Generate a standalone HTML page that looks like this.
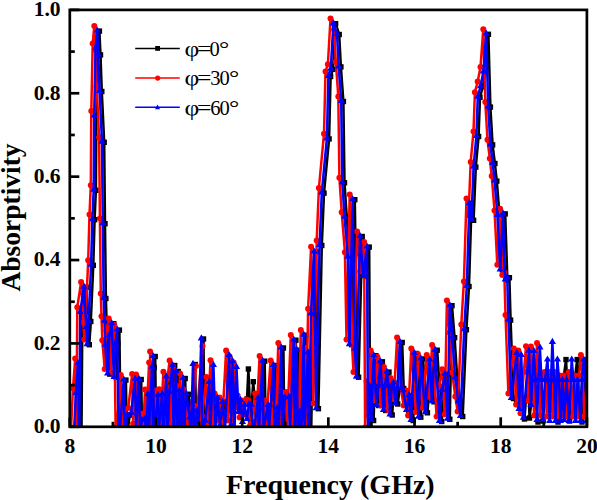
<!DOCTYPE html>
<html><head><meta charset="utf-8"><style>
html,body{margin:0;padding:0;background:#fff;}
svg{display:block;}
text{font-family:"Liberation Serif",serif;}
</style></head><body>
<svg width="597" height="500" viewBox="0 0 597 500">
<rect width="597" height="500" fill="#fff"/>
<g id="curves"><clipPath id="cp"><rect x="69.8" y="9.9" width="517.1" height="416.9"/></clipPath><g clip-path="url(#cp)"><polyline points="76.2,432.5 78.1,393.4 80.3,363.6 81.5,432.5 82.4,312.4 86.2,287.2 88.5,327.5 89.3,344.7 90.8,321.5 93.3,265.3 94.6,219.7 95.9,190.3 96.4,116.1 97.8,48.5 99.4,31.1 100.5,54.9 101.8,91.5 104.2,142.3 105.0,223.7 105.9,298.5 106.6,321.3 107.4,345.3 109.8,374.1 111.7,335.5 113.8,323.7 116.2,377.5 117.8,343.5 119.4,330.1 120.7,432.5 121.7,436.0 125.9,380.1 126.9,437.4 129.7,415.1 133.4,413.1 137.2,379.2 138.2,428.8 141.2,379.5 142.2,434.1 144.2,420.5 147.2,418.9 148.2,433.1 150.2,394.5 151.2,431.5 154.2,367.5 155.2,435.0 155.2,356.5 156.2,435.4 160.2,395.5 161.2,428.7 164.3,394.3 165.3,439.3 168.5,376.9 169.5,437.7 171.6,392.2 174.7,365.5 175.7,430.2 178.2,371.5 179.2,435.9 181.7,391.1 182.7,438.7 185.2,378.5 186.2,431.0 188.5,394.3 191.9,417.9 192.9,440.0 195.2,364.5 196.2,435.0 199.3,410.9 200.3,439.7 203.5,339.0 204.5,436.8 207.4,421.3 211.4,382.2 212.4,432.1 215.5,430.0 218.0,398.0 221.8,420.2 225.0,402.0 228.0,404.0 231.0,410.0 234.0,398.0 236.5,406.0 238.6,402.0 243.0,404.0 247.0,399.0 248.4,369.0 250.5,420.0 253.3,381.7 256.0,422.0 259.0,400.0 262.0,420.0 264.7,361.2 265.7,430.2 270.2,405.5 271.2,429.3 275.7,365.5 276.7,432.1 279.6,408.2 280.6,436.0 283.4,348.0 284.4,432.6 287.2,397.7 291.1,397.0 292.1,434.3 295.9,340.2 296.9,432.3 298.9,350.2 299.9,434.3 302.4,411.9 303.4,440.2 305.9,335.2 306.9,428.8 310.1,352.8 311.1,437.5 313.2,313.9 316.2,251.9 318.4,408.7 321.8,245.5 324.0,193.1 329.1,138.9 330.6,76.5 333.0,69.3 335.6,23.7 339.2,34.5 340.9,66.9 343.4,101.5 344.5,182.8 346.8,217.3 350.0,257.3 351.6,344.7 354.8,199.7 357.1,349.1 358.6,377.2 362.2,236.5 365.4,276.5 369.2,247.1 370.2,432.5 371.7,386.5 373.6,420.5 374.7,386.5 375.8,355.7 377.2,386.5 378.7,405.5 380.7,386.5 382.4,361.8 384.2,386.5 385.7,410.5 387.2,386.5 389.0,372.1 390.7,386.5 392.2,415.0 394.0,386.5 395.6,383.1 397.7,404.0 399.7,388.5 402.2,342.5 403.7,388.5 405.4,390.8 408.7,410.5 411.2,395.5 413.2,420.5 416.4,353.5 420.8,417.2 423.0,359.0 427.4,412.8 431.8,360.1 434.0,401.8 437.2,350.2 441.7,421.5 444.2,390.5 447.2,374.3 449.8,419.3 452.0,305.7 454.6,337.7 457.2,377.7 460.4,401.7 462.7,416.5 466.4,329.7 469.0,286.5 471.6,203.5 473.6,220.3 475.8,167.1 478.6,136.5 480.0,97.3 482.8,86.7 485.6,72.1 488.4,34.3 490.4,107.1 492.6,144.9 494.9,163.5 496.8,181.1 499.6,215.5 502.4,269.9 505.2,213.9 507.4,280.1 509.4,277.7 510.6,320.1 513.5,398.5 524.5,419.0 528.0,372.0 529.5,418.0 534.0,380.0 538.0,422.0 543.0,421.0 546.0,378.0 550.0,410.0 553.0,380.0 558.0,422.0 566.0,359.6 569.5,421.0 577.2,359.6 582.0,422.0 586.0,360.0 590.0,400.0" fill="none" stroke="#000" stroke-width="2.5" stroke-linejoin="round"/><g fill="#000"><rect x="73.5" y="429.8" width="5.4" height="5.4"/><rect x="75.4" y="390.7" width="5.4" height="5.4"/><rect x="77.6" y="360.9" width="5.4" height="5.4"/><rect x="78.8" y="429.8" width="5.4" height="5.4"/><rect x="79.7" y="309.7" width="5.4" height="5.4"/><rect x="83.5" y="284.5" width="5.4" height="5.4"/><rect x="85.8" y="324.8" width="5.4" height="5.4"/><rect x="86.6" y="342.0" width="5.4" height="5.4"/><rect x="88.1" y="318.8" width="5.4" height="5.4"/><rect x="90.6" y="262.6" width="5.4" height="5.4"/><rect x="91.9" y="217.0" width="5.4" height="5.4"/><rect x="93.2" y="187.6" width="5.4" height="5.4"/><rect x="93.7" y="113.4" width="5.4" height="5.4"/><rect x="95.1" y="45.8" width="5.4" height="5.4"/><rect x="96.7" y="28.4" width="5.4" height="5.4"/><rect x="97.8" y="52.2" width="5.4" height="5.4"/><rect x="99.1" y="88.8" width="5.4" height="5.4"/><rect x="101.5" y="139.6" width="5.4" height="5.4"/><rect x="102.3" y="221.0" width="5.4" height="5.4"/><rect x="103.2" y="295.8" width="5.4" height="5.4"/><rect x="103.9" y="318.6" width="5.4" height="5.4"/><rect x="104.7" y="342.6" width="5.4" height="5.4"/><rect x="107.1" y="371.4" width="5.4" height="5.4"/><rect x="109.0" y="332.8" width="5.4" height="5.4"/><rect x="111.1" y="321.0" width="5.4" height="5.4"/><rect x="113.5" y="374.8" width="5.4" height="5.4"/><rect x="115.1" y="340.8" width="5.4" height="5.4"/><rect x="116.7" y="327.4" width="5.4" height="5.4"/><rect x="118.0" y="429.8" width="5.4" height="5.4"/><rect x="119.0" y="433.3" width="5.4" height="5.4"/><rect x="123.2" y="377.4" width="5.4" height="5.4"/><rect x="124.2" y="434.7" width="5.4" height="5.4"/><rect x="127.0" y="412.4" width="5.4" height="5.4"/><rect x="130.7" y="410.4" width="5.4" height="5.4"/><rect x="134.5" y="376.5" width="5.4" height="5.4"/><rect x="135.5" y="426.1" width="5.4" height="5.4"/><rect x="138.5" y="376.8" width="5.4" height="5.4"/><rect x="139.5" y="431.4" width="5.4" height="5.4"/><rect x="141.5" y="417.8" width="5.4" height="5.4"/><rect x="144.5" y="416.2" width="5.4" height="5.4"/><rect x="145.5" y="430.4" width="5.4" height="5.4"/><rect x="147.5" y="391.8" width="5.4" height="5.4"/><rect x="148.5" y="428.8" width="5.4" height="5.4"/><rect x="151.5" y="364.8" width="5.4" height="5.4"/><rect x="152.5" y="432.3" width="5.4" height="5.4"/><rect x="152.5" y="353.8" width="5.4" height="5.4"/><rect x="153.5" y="432.7" width="5.4" height="5.4"/><rect x="157.5" y="392.8" width="5.4" height="5.4"/><rect x="158.5" y="426.0" width="5.4" height="5.4"/><rect x="161.7" y="391.6" width="5.4" height="5.4"/><rect x="162.7" y="436.6" width="5.4" height="5.4"/><rect x="165.8" y="374.2" width="5.4" height="5.4"/><rect x="166.8" y="435.0" width="5.4" height="5.4"/><rect x="168.9" y="389.5" width="5.4" height="5.4"/><rect x="172.0" y="362.8" width="5.4" height="5.4"/><rect x="173.0" y="427.5" width="5.4" height="5.4"/><rect x="175.5" y="368.8" width="5.4" height="5.4"/><rect x="176.5" y="433.2" width="5.4" height="5.4"/><rect x="179.0" y="388.4" width="5.4" height="5.4"/><rect x="180.0" y="436.0" width="5.4" height="5.4"/><rect x="182.5" y="375.8" width="5.4" height="5.4"/><rect x="183.5" y="428.3" width="5.4" height="5.4"/><rect x="185.8" y="391.6" width="5.4" height="5.4"/><rect x="189.2" y="415.2" width="5.4" height="5.4"/><rect x="190.2" y="437.3" width="5.4" height="5.4"/><rect x="192.5" y="361.8" width="5.4" height="5.4"/><rect x="193.5" y="432.3" width="5.4" height="5.4"/><rect x="196.7" y="408.2" width="5.4" height="5.4"/><rect x="197.7" y="437.0" width="5.4" height="5.4"/><rect x="200.8" y="336.3" width="5.4" height="5.4"/><rect x="201.8" y="434.1" width="5.4" height="5.4"/><rect x="204.8" y="418.6" width="5.4" height="5.4"/><rect x="208.7" y="379.5" width="5.4" height="5.4"/><rect x="209.7" y="429.4" width="5.4" height="5.4"/><rect x="212.8" y="427.3" width="5.4" height="5.4"/><rect x="215.3" y="395.3" width="5.4" height="5.4"/><rect x="219.1" y="417.5" width="5.4" height="5.4"/><rect x="222.3" y="399.3" width="5.4" height="5.4"/><rect x="225.3" y="401.3" width="5.4" height="5.4"/><rect x="228.3" y="407.3" width="5.4" height="5.4"/><rect x="231.3" y="395.3" width="5.4" height="5.4"/><rect x="233.8" y="403.3" width="5.4" height="5.4"/><rect x="235.9" y="399.3" width="5.4" height="5.4"/><rect x="240.3" y="401.3" width="5.4" height="5.4"/><rect x="244.3" y="396.3" width="5.4" height="5.4"/><rect x="245.7" y="366.3" width="5.4" height="5.4"/><rect x="247.8" y="417.3" width="5.4" height="5.4"/><rect x="250.6" y="379.0" width="5.4" height="5.4"/><rect x="253.3" y="419.3" width="5.4" height="5.4"/><rect x="256.3" y="397.3" width="5.4" height="5.4"/><rect x="259.3" y="417.3" width="5.4" height="5.4"/><rect x="262.0" y="358.5" width="5.4" height="5.4"/><rect x="263.0" y="427.5" width="5.4" height="5.4"/><rect x="267.5" y="402.8" width="5.4" height="5.4"/><rect x="268.5" y="426.6" width="5.4" height="5.4"/><rect x="273.0" y="362.8" width="5.4" height="5.4"/><rect x="274.0" y="429.4" width="5.4" height="5.4"/><rect x="276.9" y="405.5" width="5.4" height="5.4"/><rect x="277.9" y="433.3" width="5.4" height="5.4"/><rect x="280.7" y="345.3" width="5.4" height="5.4"/><rect x="281.7" y="429.9" width="5.4" height="5.4"/><rect x="284.5" y="395.0" width="5.4" height="5.4"/><rect x="288.4" y="394.3" width="5.4" height="5.4"/><rect x="289.4" y="431.6" width="5.4" height="5.4"/><rect x="293.2" y="337.5" width="5.4" height="5.4"/><rect x="294.2" y="429.6" width="5.4" height="5.4"/><rect x="296.2" y="347.5" width="5.4" height="5.4"/><rect x="297.2" y="431.6" width="5.4" height="5.4"/><rect x="299.7" y="409.2" width="5.4" height="5.4"/><rect x="300.7" y="437.5" width="5.4" height="5.4"/><rect x="303.2" y="332.5" width="5.4" height="5.4"/><rect x="304.2" y="426.1" width="5.4" height="5.4"/><rect x="307.4" y="350.1" width="5.4" height="5.4"/><rect x="308.4" y="434.8" width="5.4" height="5.4"/><rect x="310.5" y="311.2" width="5.4" height="5.4"/><rect x="313.5" y="249.2" width="5.4" height="5.4"/><rect x="315.7" y="406.0" width="5.4" height="5.4"/><rect x="319.1" y="242.8" width="5.4" height="5.4"/><rect x="321.3" y="190.4" width="5.4" height="5.4"/><rect x="326.4" y="136.2" width="5.4" height="5.4"/><rect x="327.9" y="73.8" width="5.4" height="5.4"/><rect x="330.3" y="66.6" width="5.4" height="5.4"/><rect x="332.9" y="21.0" width="5.4" height="5.4"/><rect x="336.5" y="31.8" width="5.4" height="5.4"/><rect x="338.2" y="64.2" width="5.4" height="5.4"/><rect x="340.7" y="98.8" width="5.4" height="5.4"/><rect x="341.8" y="180.1" width="5.4" height="5.4"/><rect x="344.1" y="214.6" width="5.4" height="5.4"/><rect x="347.3" y="254.6" width="5.4" height="5.4"/><rect x="348.9" y="342.0" width="5.4" height="5.4"/><rect x="352.1" y="197.0" width="5.4" height="5.4"/><rect x="354.4" y="346.4" width="5.4" height="5.4"/><rect x="355.9" y="374.5" width="5.4" height="5.4"/><rect x="359.5" y="233.8" width="5.4" height="5.4"/><rect x="362.7" y="273.8" width="5.4" height="5.4"/><rect x="366.5" y="244.4" width="5.4" height="5.4"/><rect x="367.5" y="429.8" width="5.4" height="5.4"/><rect x="369.0" y="383.8" width="5.4" height="5.4"/><rect x="370.9" y="417.8" width="5.4" height="5.4"/><rect x="372.0" y="383.8" width="5.4" height="5.4"/><rect x="373.1" y="353.0" width="5.4" height="5.4"/><rect x="374.5" y="383.8" width="5.4" height="5.4"/><rect x="376.0" y="402.8" width="5.4" height="5.4"/><rect x="378.0" y="383.8" width="5.4" height="5.4"/><rect x="379.7" y="359.1" width="5.4" height="5.4"/><rect x="381.5" y="383.8" width="5.4" height="5.4"/><rect x="383.0" y="407.8" width="5.4" height="5.4"/><rect x="384.5" y="383.8" width="5.4" height="5.4"/><rect x="386.3" y="369.4" width="5.4" height="5.4"/><rect x="388.0" y="383.8" width="5.4" height="5.4"/><rect x="389.5" y="412.3" width="5.4" height="5.4"/><rect x="391.3" y="383.8" width="5.4" height="5.4"/><rect x="392.9" y="380.4" width="5.4" height="5.4"/><rect x="395.0" y="401.3" width="5.4" height="5.4"/><rect x="397.0" y="385.8" width="5.4" height="5.4"/><rect x="399.5" y="339.8" width="5.4" height="5.4"/><rect x="401.0" y="385.8" width="5.4" height="5.4"/><rect x="402.7" y="388.1" width="5.4" height="5.4"/><rect x="406.0" y="407.8" width="5.4" height="5.4"/><rect x="408.5" y="392.8" width="5.4" height="5.4"/><rect x="410.5" y="417.8" width="5.4" height="5.4"/><rect x="413.7" y="350.8" width="5.4" height="5.4"/><rect x="418.1" y="414.5" width="5.4" height="5.4"/><rect x="420.3" y="356.3" width="5.4" height="5.4"/><rect x="424.7" y="410.1" width="5.4" height="5.4"/><rect x="429.1" y="357.4" width="5.4" height="5.4"/><rect x="431.3" y="399.1" width="5.4" height="5.4"/><rect x="434.5" y="347.5" width="5.4" height="5.4"/><rect x="439.0" y="418.8" width="5.4" height="5.4"/><rect x="441.5" y="387.8" width="5.4" height="5.4"/><rect x="444.5" y="371.6" width="5.4" height="5.4"/><rect x="447.1" y="416.6" width="5.4" height="5.4"/><rect x="449.3" y="303.0" width="5.4" height="5.4"/><rect x="451.9" y="335.0" width="5.4" height="5.4"/><rect x="454.5" y="375.0" width="5.4" height="5.4"/><rect x="457.7" y="399.0" width="5.4" height="5.4"/><rect x="460.0" y="413.8" width="5.4" height="5.4"/><rect x="463.7" y="327.0" width="5.4" height="5.4"/><rect x="466.3" y="283.8" width="5.4" height="5.4"/><rect x="468.9" y="200.8" width="5.4" height="5.4"/><rect x="470.9" y="217.6" width="5.4" height="5.4"/><rect x="473.1" y="164.4" width="5.4" height="5.4"/><rect x="475.9" y="133.8" width="5.4" height="5.4"/><rect x="477.3" y="94.6" width="5.4" height="5.4"/><rect x="480.1" y="84.0" width="5.4" height="5.4"/><rect x="482.9" y="69.4" width="5.4" height="5.4"/><rect x="485.7" y="31.6" width="5.4" height="5.4"/><rect x="487.7" y="104.4" width="5.4" height="5.4"/><rect x="489.9" y="142.2" width="5.4" height="5.4"/><rect x="492.2" y="160.8" width="5.4" height="5.4"/><rect x="494.1" y="178.4" width="5.4" height="5.4"/><rect x="496.9" y="212.8" width="5.4" height="5.4"/><rect x="499.7" y="267.2" width="5.4" height="5.4"/><rect x="502.5" y="211.2" width="5.4" height="5.4"/><rect x="504.7" y="277.4" width="5.4" height="5.4"/><rect x="506.7" y="275.0" width="5.4" height="5.4"/><rect x="507.9" y="317.4" width="5.4" height="5.4"/><rect x="510.8" y="395.8" width="5.4" height="5.4"/><rect x="521.8" y="416.3" width="5.4" height="5.4"/><rect x="525.3" y="369.3" width="5.4" height="5.4"/><rect x="526.8" y="415.3" width="5.4" height="5.4"/><rect x="531.3" y="377.3" width="5.4" height="5.4"/><rect x="535.3" y="419.3" width="5.4" height="5.4"/><rect x="540.3" y="418.3" width="5.4" height="5.4"/><rect x="543.3" y="375.3" width="5.4" height="5.4"/><rect x="547.3" y="407.3" width="5.4" height="5.4"/><rect x="550.3" y="377.3" width="5.4" height="5.4"/><rect x="555.3" y="419.3" width="5.4" height="5.4"/><rect x="563.3" y="356.9" width="5.4" height="5.4"/><rect x="566.8" y="418.3" width="5.4" height="5.4"/><rect x="574.5" y="356.9" width="5.4" height="5.4"/><rect x="579.3" y="419.3" width="5.4" height="5.4"/><rect x="583.3" y="357.3" width="5.4" height="5.4"/><rect x="587.3" y="397.3" width="5.4" height="5.4"/></g><polyline points="71.1,427.4 73.0,388.3 75.2,358.5 76.4,427.4 77.3,307.3 81.1,282.1 83.4,322.4 84.2,339.6 85.7,316.4 88.2,260.2 89.5,214.6 90.8,185.2 91.3,111.0 92.7,43.4 94.3,26.0 95.4,49.8 96.7,86.4 99.1,137.2 99.9,218.6 100.8,293.4 101.5,316.2 102.3,340.2 104.7,369.0 106.6,330.4 108.7,318.6 111.1,372.4 112.7,338.4 114.3,325.0 115.6,427.4 116.6,430.9 120.8,375.0 121.8,432.3 124.6,410.0 128.3,408.0 132.1,374.1 133.1,423.7 136.1,374.4 137.1,429.0 139.1,415.4 142.1,413.8 143.1,428.0 145.1,389.4 146.1,426.4 149.1,362.4 150.1,429.9 150.1,351.4 151.1,430.3 155.1,390.4 156.1,423.6 159.2,389.2 160.2,434.2 163.4,371.8 164.4,432.6 166.5,387.1 169.6,360.4 170.6,425.1 173.1,366.4 174.1,430.8 176.6,386.0 177.6,433.6 180.1,373.4 181.1,425.9 183.4,389.2 186.8,412.8 187.8,434.9 196.0,366.0 191.1,429.9 194.2,405.8 195.2,434.6 202.5,346.0 199.4,431.7 202.3,416.2 206.3,377.1 207.3,427.0 210.5,360.3 212.6,425.4 214.6,393.4 217.1,420.4 219.6,397.4 222.1,425.4 226.1,350.4 228.1,420.4 229.6,356.4 231.6,425.4 233.6,362.4 235.6,407.4 237.6,395.4 239.6,417.4 241.6,400.4 244.1,414.4 246.1,399.4 248.3,400.2 250.1,425.4 251.1,427.7 255.1,393.4 256.1,425.4 259.6,356.1 260.6,425.1 265.1,400.4 266.1,424.2 270.6,360.4 271.6,427.0 274.5,403.1 275.5,430.9 278.3,342.9 279.3,427.5 282.1,392.6 286.0,391.9 287.0,429.2 290.8,335.1 291.8,427.2 293.8,345.1 294.8,429.2 297.3,406.8 298.3,435.1 300.8,330.1 301.8,423.7 305.0,347.7 306.0,432.4 308.1,308.8 311.1,246.8 313.3,403.6 316.7,240.4 318.9,188.0 324.0,133.8 325.5,71.4 327.9,64.2 330.5,18.6 334.1,29.4 335.8,61.8 338.3,96.4 339.4,177.7 341.7,212.2 344.9,252.2 346.5,339.6 349.7,194.6 352.0,344.0 353.5,372.1 357.1,231.4 360.3,271.4 364.1,242.0 365.1,427.4 366.6,381.4 368.5,415.4 369.6,381.4 370.7,350.6 372.1,381.4 373.6,400.4 375.6,381.4 377.3,356.7 379.1,381.4 380.6,405.4 382.1,381.4 383.9,367.0 385.6,381.4 387.1,409.9 388.9,381.4 390.5,378.0 392.6,398.9 394.6,383.4 397.1,337.4 398.6,383.4 400.3,385.7 403.6,405.4 406.1,390.4 408.1,415.4 411.3,348.4 415.7,412.1 417.9,353.9 422.3,407.7 426.7,355.0 428.9,396.7 432.1,345.1 436.6,416.4 439.1,385.4 442.1,369.2 444.7,414.2 446.9,300.6 449.5,332.6 452.1,372.6 455.3,396.6 457.6,411.4 461.3,324.6 463.9,281.4 466.5,198.4 468.5,215.2 470.7,162.0 473.5,131.4 474.9,92.2 477.7,81.6 480.5,67.0 483.3,29.2 485.3,102.0 487.5,139.8 489.8,158.4 491.7,176.0 494.5,210.4 497.3,264.8 500.1,208.8 502.3,275.0 504.3,272.6 505.5,315.0 508.4,393.4 513.9,348.4 516.1,404.4 518.3,350.4 520.5,413.2 526.0,346.2 528.1,400.4 530.9,346.4 532.6,375.4 534.1,415.4 535.6,375.4 537.0,342.9 538.6,375.4 540.1,415.4 542.1,375.4 544.6,372.0 546.8,416.4 548.1,375.4 549.5,372.0 551.1,375.4 552.6,416.4 554.5,372.0 556.1,375.4 557.6,416.4 559.6,375.4 561.1,415.4 563.6,375.4 566.1,416.4 568.8,372.0 570.6,375.4 572.6,416.4 574.6,375.4 577.6,416.4 579.1,375.4 580.9,355.0 582.6,375.4 584.1,416.4 587.1,375.4" fill="none" stroke="#f00" stroke-width="2.5" stroke-linejoin="round"/><g fill="#f00"><circle cx="71.1" cy="427.4" r="3.0"/><circle cx="73.0" cy="388.3" r="3.0"/><circle cx="75.2" cy="358.5" r="3.0"/><circle cx="76.4" cy="427.4" r="3.0"/><circle cx="77.3" cy="307.3" r="3.0"/><circle cx="81.1" cy="282.1" r="3.0"/><circle cx="83.4" cy="322.4" r="3.0"/><circle cx="84.2" cy="339.6" r="3.0"/><circle cx="85.7" cy="316.4" r="3.0"/><circle cx="88.2" cy="260.2" r="3.0"/><circle cx="89.5" cy="214.6" r="3.0"/><circle cx="90.8" cy="185.2" r="3.0"/><circle cx="91.3" cy="111.0" r="3.0"/><circle cx="92.7" cy="43.4" r="3.0"/><circle cx="94.3" cy="26.0" r="3.0"/><circle cx="95.4" cy="49.8" r="3.0"/><circle cx="96.7" cy="86.4" r="3.0"/><circle cx="99.1" cy="137.2" r="3.0"/><circle cx="99.9" cy="218.6" r="3.0"/><circle cx="100.8" cy="293.4" r="3.0"/><circle cx="101.5" cy="316.2" r="3.0"/><circle cx="102.3" cy="340.2" r="3.0"/><circle cx="104.7" cy="369.0" r="3.0"/><circle cx="106.6" cy="330.4" r="3.0"/><circle cx="108.7" cy="318.6" r="3.0"/><circle cx="111.1" cy="372.4" r="3.0"/><circle cx="112.7" cy="338.4" r="3.0"/><circle cx="114.3" cy="325.0" r="3.0"/><circle cx="115.6" cy="427.4" r="3.0"/><circle cx="116.6" cy="430.9" r="3.0"/><circle cx="120.8" cy="375.0" r="3.0"/><circle cx="121.8" cy="432.3" r="3.0"/><circle cx="124.6" cy="410.0" r="3.0"/><circle cx="128.3" cy="408.0" r="3.0"/><circle cx="132.1" cy="374.1" r="3.0"/><circle cx="133.1" cy="423.7" r="3.0"/><circle cx="136.1" cy="374.4" r="3.0"/><circle cx="137.1" cy="429.0" r="3.0"/><circle cx="139.1" cy="415.4" r="3.0"/><circle cx="142.1" cy="413.8" r="3.0"/><circle cx="143.1" cy="428.0" r="3.0"/><circle cx="145.1" cy="389.4" r="3.0"/><circle cx="146.1" cy="426.4" r="3.0"/><circle cx="149.1" cy="362.4" r="3.0"/><circle cx="150.1" cy="429.9" r="3.0"/><circle cx="150.1" cy="351.4" r="3.0"/><circle cx="151.1" cy="430.3" r="3.0"/><circle cx="155.1" cy="390.4" r="3.0"/><circle cx="156.1" cy="423.6" r="3.0"/><circle cx="159.2" cy="389.2" r="3.0"/><circle cx="160.2" cy="434.2" r="3.0"/><circle cx="163.4" cy="371.8" r="3.0"/><circle cx="164.4" cy="432.6" r="3.0"/><circle cx="166.5" cy="387.1" r="3.0"/><circle cx="169.6" cy="360.4" r="3.0"/><circle cx="170.6" cy="425.1" r="3.0"/><circle cx="173.1" cy="366.4" r="3.0"/><circle cx="174.1" cy="430.8" r="3.0"/><circle cx="176.6" cy="386.0" r="3.0"/><circle cx="177.6" cy="433.6" r="3.0"/><circle cx="180.1" cy="373.4" r="3.0"/><circle cx="181.1" cy="425.9" r="3.0"/><circle cx="183.4" cy="389.2" r="3.0"/><circle cx="186.8" cy="412.8" r="3.0"/><circle cx="187.8" cy="434.9" r="3.0"/><circle cx="196.0" cy="366.0" r="3.0"/><circle cx="191.1" cy="429.9" r="3.0"/><circle cx="194.2" cy="405.8" r="3.0"/><circle cx="195.2" cy="434.6" r="3.0"/><circle cx="202.5" cy="346.0" r="3.0"/><circle cx="199.4" cy="431.7" r="3.0"/><circle cx="202.3" cy="416.2" r="3.0"/><circle cx="206.3" cy="377.1" r="3.0"/><circle cx="207.3" cy="427.0" r="3.0"/><circle cx="210.5" cy="360.3" r="3.0"/><circle cx="212.6" cy="425.4" r="3.0"/><circle cx="214.6" cy="393.4" r="3.0"/><circle cx="217.1" cy="420.4" r="3.0"/><circle cx="219.6" cy="397.4" r="3.0"/><circle cx="222.1" cy="425.4" r="3.0"/><circle cx="226.1" cy="350.4" r="3.0"/><circle cx="228.1" cy="420.4" r="3.0"/><circle cx="229.6" cy="356.4" r="3.0"/><circle cx="231.6" cy="425.4" r="3.0"/><circle cx="233.6" cy="362.4" r="3.0"/><circle cx="235.6" cy="407.4" r="3.0"/><circle cx="237.6" cy="395.4" r="3.0"/><circle cx="239.6" cy="417.4" r="3.0"/><circle cx="241.6" cy="400.4" r="3.0"/><circle cx="244.1" cy="414.4" r="3.0"/><circle cx="246.1" cy="399.4" r="3.0"/><circle cx="248.3" cy="400.2" r="3.0"/><circle cx="250.1" cy="425.4" r="3.0"/><circle cx="251.1" cy="427.7" r="3.0"/><circle cx="255.1" cy="393.4" r="3.0"/><circle cx="256.1" cy="425.4" r="3.0"/><circle cx="259.6" cy="356.1" r="3.0"/><circle cx="260.6" cy="425.1" r="3.0"/><circle cx="265.1" cy="400.4" r="3.0"/><circle cx="266.1" cy="424.2" r="3.0"/><circle cx="270.6" cy="360.4" r="3.0"/><circle cx="271.6" cy="427.0" r="3.0"/><circle cx="274.5" cy="403.1" r="3.0"/><circle cx="275.5" cy="430.9" r="3.0"/><circle cx="278.3" cy="342.9" r="3.0"/><circle cx="279.3" cy="427.5" r="3.0"/><circle cx="282.1" cy="392.6" r="3.0"/><circle cx="286.0" cy="391.9" r="3.0"/><circle cx="287.0" cy="429.2" r="3.0"/><circle cx="290.8" cy="335.1" r="3.0"/><circle cx="291.8" cy="427.2" r="3.0"/><circle cx="293.8" cy="345.1" r="3.0"/><circle cx="294.8" cy="429.2" r="3.0"/><circle cx="297.3" cy="406.8" r="3.0"/><circle cx="298.3" cy="435.1" r="3.0"/><circle cx="300.8" cy="330.1" r="3.0"/><circle cx="301.8" cy="423.7" r="3.0"/><circle cx="305.0" cy="347.7" r="3.0"/><circle cx="306.0" cy="432.4" r="3.0"/><circle cx="308.1" cy="308.8" r="3.0"/><circle cx="311.1" cy="246.8" r="3.0"/><circle cx="313.3" cy="403.6" r="3.0"/><circle cx="316.7" cy="240.4" r="3.0"/><circle cx="318.9" cy="188.0" r="3.0"/><circle cx="324.0" cy="133.8" r="3.0"/><circle cx="325.5" cy="71.4" r="3.0"/><circle cx="327.9" cy="64.2" r="3.0"/><circle cx="330.5" cy="18.6" r="3.0"/><circle cx="334.1" cy="29.4" r="3.0"/><circle cx="335.8" cy="61.8" r="3.0"/><circle cx="338.3" cy="96.4" r="3.0"/><circle cx="339.4" cy="177.7" r="3.0"/><circle cx="341.7" cy="212.2" r="3.0"/><circle cx="344.9" cy="252.2" r="3.0"/><circle cx="346.5" cy="339.6" r="3.0"/><circle cx="349.7" cy="194.6" r="3.0"/><circle cx="352.0" cy="344.0" r="3.0"/><circle cx="353.5" cy="372.1" r="3.0"/><circle cx="357.1" cy="231.4" r="3.0"/><circle cx="360.3" cy="271.4" r="3.0"/><circle cx="364.1" cy="242.0" r="3.0"/><circle cx="365.1" cy="427.4" r="3.0"/><circle cx="366.6" cy="381.4" r="3.0"/><circle cx="368.5" cy="415.4" r="3.0"/><circle cx="369.6" cy="381.4" r="3.0"/><circle cx="370.7" cy="350.6" r="3.0"/><circle cx="372.1" cy="381.4" r="3.0"/><circle cx="373.6" cy="400.4" r="3.0"/><circle cx="375.6" cy="381.4" r="3.0"/><circle cx="377.3" cy="356.7" r="3.0"/><circle cx="379.1" cy="381.4" r="3.0"/><circle cx="380.6" cy="405.4" r="3.0"/><circle cx="382.1" cy="381.4" r="3.0"/><circle cx="383.9" cy="367.0" r="3.0"/><circle cx="385.6" cy="381.4" r="3.0"/><circle cx="387.1" cy="409.9" r="3.0"/><circle cx="388.9" cy="381.4" r="3.0"/><circle cx="390.5" cy="378.0" r="3.0"/><circle cx="392.6" cy="398.9" r="3.0"/><circle cx="394.6" cy="383.4" r="3.0"/><circle cx="397.1" cy="337.4" r="3.0"/><circle cx="398.6" cy="383.4" r="3.0"/><circle cx="400.3" cy="385.7" r="3.0"/><circle cx="403.6" cy="405.4" r="3.0"/><circle cx="406.1" cy="390.4" r="3.0"/><circle cx="408.1" cy="415.4" r="3.0"/><circle cx="411.3" cy="348.4" r="3.0"/><circle cx="415.7" cy="412.1" r="3.0"/><circle cx="417.9" cy="353.9" r="3.0"/><circle cx="422.3" cy="407.7" r="3.0"/><circle cx="426.7" cy="355.0" r="3.0"/><circle cx="428.9" cy="396.7" r="3.0"/><circle cx="432.1" cy="345.1" r="3.0"/><circle cx="436.6" cy="416.4" r="3.0"/><circle cx="439.1" cy="385.4" r="3.0"/><circle cx="442.1" cy="369.2" r="3.0"/><circle cx="444.7" cy="414.2" r="3.0"/><circle cx="446.9" cy="300.6" r="3.0"/><circle cx="449.5" cy="332.6" r="3.0"/><circle cx="452.1" cy="372.6" r="3.0"/><circle cx="455.3" cy="396.6" r="3.0"/><circle cx="457.6" cy="411.4" r="3.0"/><circle cx="461.3" cy="324.6" r="3.0"/><circle cx="463.9" cy="281.4" r="3.0"/><circle cx="466.5" cy="198.4" r="3.0"/><circle cx="468.5" cy="215.2" r="3.0"/><circle cx="470.7" cy="162.0" r="3.0"/><circle cx="473.5" cy="131.4" r="3.0"/><circle cx="474.9" cy="92.2" r="3.0"/><circle cx="477.7" cy="81.6" r="3.0"/><circle cx="480.5" cy="67.0" r="3.0"/><circle cx="483.3" cy="29.2" r="3.0"/><circle cx="485.3" cy="102.0" r="3.0"/><circle cx="487.5" cy="139.8" r="3.0"/><circle cx="489.8" cy="158.4" r="3.0"/><circle cx="491.7" cy="176.0" r="3.0"/><circle cx="494.5" cy="210.4" r="3.0"/><circle cx="497.3" cy="264.8" r="3.0"/><circle cx="500.1" cy="208.8" r="3.0"/><circle cx="502.3" cy="275.0" r="3.0"/><circle cx="504.3" cy="272.6" r="3.0"/><circle cx="505.5" cy="315.0" r="3.0"/><circle cx="508.4" cy="393.4" r="3.0"/><circle cx="513.9" cy="348.4" r="3.0"/><circle cx="516.1" cy="404.4" r="3.0"/><circle cx="518.3" cy="350.4" r="3.0"/><circle cx="520.5" cy="413.2" r="3.0"/><circle cx="526.0" cy="346.2" r="3.0"/><circle cx="528.1" cy="400.4" r="3.0"/><circle cx="530.9" cy="346.4" r="3.0"/><circle cx="532.6" cy="375.4" r="3.0"/><circle cx="534.1" cy="415.4" r="3.0"/><circle cx="535.6" cy="375.4" r="3.0"/><circle cx="537.0" cy="342.9" r="3.0"/><circle cx="538.6" cy="375.4" r="3.0"/><circle cx="540.1" cy="415.4" r="3.0"/><circle cx="542.1" cy="375.4" r="3.0"/><circle cx="544.6" cy="372.0" r="3.0"/><circle cx="546.8" cy="416.4" r="3.0"/><circle cx="548.1" cy="375.4" r="3.0"/><circle cx="549.5" cy="372.0" r="3.0"/><circle cx="551.1" cy="375.4" r="3.0"/><circle cx="552.6" cy="416.4" r="3.0"/><circle cx="554.5" cy="372.0" r="3.0"/><circle cx="556.1" cy="375.4" r="3.0"/><circle cx="557.6" cy="416.4" r="3.0"/><circle cx="559.6" cy="375.4" r="3.0"/><circle cx="561.1" cy="415.4" r="3.0"/><circle cx="563.6" cy="375.4" r="3.0"/><circle cx="566.1" cy="416.4" r="3.0"/><circle cx="568.8" cy="372.0" r="3.0"/><circle cx="570.6" cy="375.4" r="3.0"/><circle cx="572.6" cy="416.4" r="3.0"/><circle cx="574.6" cy="375.4" r="3.0"/><circle cx="577.6" cy="416.4" r="3.0"/><circle cx="579.1" cy="375.4" r="3.0"/><circle cx="580.9" cy="355.0" r="3.0"/><circle cx="582.6" cy="375.4" r="3.0"/><circle cx="584.1" cy="416.4" r="3.0"/><circle cx="587.1" cy="375.4" r="3.0"/></g><polyline points="74.0,432.0 75.9,392.9 78.1,363.1 79.3,432.0 80.2,311.9 84.0,286.7 86.3,327.0 87.1,344.2 88.6,321.0 91.1,264.8 92.4,219.2 93.7,189.8 94.2,115.6 95.6,48.0 97.2,30.6 98.3,54.4 99.6,91.0 102.0,141.8 102.8,223.2 103.7,298.0 104.4,320.8 105.2,344.8 107.6,373.6 109.5,335.0 111.6,323.2 114.0,377.0 115.6,343.0 117.2,329.6 118.5,432.0 119.5,435.5 123.7,379.6 124.7,436.9 127.5,414.6 131.2,412.6 135.0,378.7 136.0,428.3 139.0,379.0 140.0,433.6 142.0,420.0 145.0,418.4 146.0,432.6 148.0,394.0 149.0,431.0 152.0,367.0 153.0,434.5 153.0,356.0 154.0,434.9 158.0,395.0 159.0,428.2 162.2,393.8 163.2,438.8 166.3,376.4 167.3,437.2 169.4,391.7 172.5,365.0 173.5,429.7 176.0,371.0 177.0,435.4 179.5,390.6 180.5,438.2 183.0,378.0 184.0,430.5 186.3,393.8 189.7,417.4 190.7,439.5 193.0,364.0 194.0,434.5 197.2,410.4 198.2,439.2 201.3,338.5 202.3,436.3 205.2,420.8 209.2,381.7 210.2,431.6 213.4,364.9 215.5,430.0 217.5,398.0 220.0,425.0 222.5,402.0 225.0,430.0 229.0,355.0 231.0,425.0 232.5,361.0 234.5,430.0 236.5,367.0 238.5,412.0 240.5,400.0 242.5,422.0 244.5,405.0 247.0,419.0 249.0,404.0 251.2,404.8 253.0,430.0 254.0,432.3 258.0,398.0 259.0,430.0 262.5,360.7 263.5,429.7 268.0,405.0 269.0,428.8 273.5,365.0 274.5,431.6 277.4,407.7 278.4,435.5 281.2,347.5 282.2,432.1 285.0,397.2 288.9,396.5 289.9,433.8 293.7,339.7 294.7,431.8 296.7,349.7 297.7,433.8 300.2,411.4 301.2,439.7 303.7,334.7 304.7,428.3 307.9,352.3 308.9,437.0 311.0,313.4 314.0,251.4 316.2,408.2 319.6,245.0 321.8,192.6 326.9,138.4 328.4,76.0 330.8,68.8 333.4,23.2 337.0,34.0 338.7,66.4 341.2,101.0 342.3,182.3 344.6,216.8 347.8,256.8 349.4,344.2 352.6,199.2 354.9,348.6 356.4,376.7 360.0,236.0 363.2,276.0 367.0,246.6 368.0,432.0 369.5,386.0 371.4,420.0 372.5,386.0 373.6,355.2 375.0,386.0 376.5,405.0 378.5,386.0 380.2,361.3 382.0,386.0 383.5,410.0 385.0,386.0 386.8,371.6 388.5,386.0 390.0,414.5 391.8,386.0 393.4,382.6 395.5,403.5 397.5,388.0 400.0,342.0 401.5,388.0 403.2,390.3 406.5,410.0 409.0,395.0 411.0,420.0 414.2,353.0 418.6,416.7 420.8,358.5 425.2,412.3 429.6,359.6 431.8,401.3 435.0,349.7 439.5,421.0 442.0,390.0 445.0,373.8 447.6,418.8 449.8,305.2 452.4,337.2 455.0,377.2 458.2,401.2 460.5,416.0 464.2,329.2 466.8,286.0 469.4,203.0 471.4,219.8 473.6,166.6 476.4,136.0 477.8,96.8 480.6,86.2 483.4,71.6 486.2,33.8 488.2,106.6 490.4,144.4 492.7,163.0 494.6,180.6 497.4,215.0 500.2,269.4 503.0,213.4 505.2,279.6 507.2,277.2 508.4,319.6 511.3,398.0 516.8,353.0 519.0,409.0 521.2,355.0 523.4,417.8 528.9,350.8 531.0,405.0 533.8,351.0 535.5,380.0 537.0,420.0 538.5,380.0 539.9,347.5 541.5,380.0 543.0,420.0 545.0,380.0 547.5,359.6 549.7,421.0 551.0,380.0 552.4,342.0 554.0,380.0 555.5,421.0 557.4,359.6 559.0,380.0 560.5,421.0 562.5,380.0 564.0,420.0 566.5,380.0 569.0,421.0 571.7,359.6 573.5,380.0 575.5,421.0 577.5,380.0 580.5,421.0 582.0,380.0 583.8,359.6 585.5,380.0 587.0,421.0 590.0,380.0" fill="none" stroke="#00f" stroke-width="2.5" stroke-linejoin="round"/><g fill="#00f"><path d="M74.0 427.8l3.6 6.2h-7.2z"/><path d="M75.9 388.7l3.6 6.2h-7.2z"/><path d="M78.1 358.9l3.6 6.2h-7.2z"/><path d="M79.3 427.8l3.6 6.2h-7.2z"/><path d="M80.2 307.7l3.6 6.2h-7.2z"/><path d="M84.0 282.5l3.6 6.2h-7.2z"/><path d="M86.3 322.8l3.6 6.2h-7.2z"/><path d="M87.1 340.0l3.6 6.2h-7.2z"/><path d="M88.6 316.8l3.6 6.2h-7.2z"/><path d="M91.1 260.6l3.6 6.2h-7.2z"/><path d="M92.4 215.0l3.6 6.2h-7.2z"/><path d="M93.7 185.6l3.6 6.2h-7.2z"/><path d="M94.2 111.4l3.6 6.2h-7.2z"/><path d="M95.6 43.8l3.6 6.2h-7.2z"/><path d="M97.2 26.4l3.6 6.2h-7.2z"/><path d="M98.3 50.2l3.6 6.2h-7.2z"/><path d="M99.6 86.8l3.6 6.2h-7.2z"/><path d="M102.0 137.6l3.6 6.2h-7.2z"/><path d="M102.8 219.0l3.6 6.2h-7.2z"/><path d="M103.7 293.8l3.6 6.2h-7.2z"/><path d="M104.4 316.6l3.6 6.2h-7.2z"/><path d="M105.2 340.6l3.6 6.2h-7.2z"/><path d="M107.6 369.4l3.6 6.2h-7.2z"/><path d="M109.5 330.8l3.6 6.2h-7.2z"/><path d="M111.6 319.0l3.6 6.2h-7.2z"/><path d="M114.0 372.8l3.6 6.2h-7.2z"/><path d="M115.6 338.8l3.6 6.2h-7.2z"/><path d="M117.2 325.4l3.6 6.2h-7.2z"/><path d="M118.5 427.8l3.6 6.2h-7.2z"/><path d="M119.5 431.3l3.6 6.2h-7.2z"/><path d="M123.7 375.4l3.6 6.2h-7.2z"/><path d="M124.7 432.7l3.6 6.2h-7.2z"/><path d="M127.5 410.5l3.6 6.2h-7.2z"/><path d="M131.2 408.5l3.6 6.2h-7.2z"/><path d="M135.0 374.5l3.6 6.2h-7.2z"/><path d="M136.0 424.2l3.6 6.2h-7.2z"/><path d="M139.0 374.8l3.6 6.2h-7.2z"/><path d="M140.0 429.4l3.6 6.2h-7.2z"/><path d="M142.0 415.8l3.6 6.2h-7.2z"/><path d="M145.0 414.3l3.6 6.2h-7.2z"/><path d="M146.0 428.4l3.6 6.2h-7.2z"/><path d="M148.0 389.8l3.6 6.2h-7.2z"/><path d="M149.0 426.8l3.6 6.2h-7.2z"/><path d="M152.0 362.8l3.6 6.2h-7.2z"/><path d="M153.0 430.4l3.6 6.2h-7.2z"/><path d="M153.0 351.8l3.6 6.2h-7.2z"/><path d="M154.0 430.7l3.6 6.2h-7.2z"/><path d="M158.0 390.8l3.6 6.2h-7.2z"/><path d="M159.0 424.0l3.6 6.2h-7.2z"/><path d="M162.2 389.6l3.6 6.2h-7.2z"/><path d="M163.2 434.7l3.6 6.2h-7.2z"/><path d="M166.3 372.2l3.6 6.2h-7.2z"/><path d="M167.3 433.0l3.6 6.2h-7.2z"/><path d="M169.4 387.6l3.6 6.2h-7.2z"/><path d="M172.5 360.8l3.6 6.2h-7.2z"/><path d="M173.5 425.5l3.6 6.2h-7.2z"/><path d="M176.0 366.8l3.6 6.2h-7.2z"/><path d="M177.0 431.3l3.6 6.2h-7.2z"/><path d="M179.5 386.4l3.6 6.2h-7.2z"/><path d="M180.5 434.0l3.6 6.2h-7.2z"/><path d="M183.0 373.8l3.6 6.2h-7.2z"/><path d="M184.0 426.4l3.6 6.2h-7.2z"/><path d="M186.3 389.6l3.6 6.2h-7.2z"/><path d="M189.7 413.2l3.6 6.2h-7.2z"/><path d="M190.7 435.3l3.6 6.2h-7.2z"/><path d="M193.0 359.8l3.6 6.2h-7.2z"/><path d="M194.0 430.3l3.6 6.2h-7.2z"/><path d="M197.2 406.2l3.6 6.2h-7.2z"/><path d="M198.2 435.0l3.6 6.2h-7.2z"/><path d="M201.3 334.3l3.6 6.2h-7.2z"/><path d="M202.3 432.1l3.6 6.2h-7.2z"/><path d="M205.2 416.6l3.6 6.2h-7.2z"/><path d="M209.2 377.5l3.6 6.2h-7.2z"/><path d="M210.2 427.4l3.6 6.2h-7.2z"/><path d="M213.4 360.7l3.6 6.2h-7.2z"/><path d="M215.5 425.8l3.6 6.2h-7.2z"/><path d="M217.5 393.8l3.6 6.2h-7.2z"/><path d="M220.0 420.8l3.6 6.2h-7.2z"/><path d="M222.5 397.8l3.6 6.2h-7.2z"/><path d="M225.0 425.8l3.6 6.2h-7.2z"/><path d="M229.0 350.8l3.6 6.2h-7.2z"/><path d="M231.0 420.8l3.6 6.2h-7.2z"/><path d="M232.5 356.8l3.6 6.2h-7.2z"/><path d="M234.5 425.8l3.6 6.2h-7.2z"/><path d="M236.5 362.8l3.6 6.2h-7.2z"/><path d="M238.5 407.8l3.6 6.2h-7.2z"/><path d="M240.5 395.8l3.6 6.2h-7.2z"/><path d="M242.5 417.8l3.6 6.2h-7.2z"/><path d="M244.5 400.8l3.6 6.2h-7.2z"/><path d="M247.0 414.8l3.6 6.2h-7.2z"/><path d="M249.0 399.8l3.6 6.2h-7.2z"/><path d="M251.2 400.6l3.6 6.2h-7.2z"/><path d="M253.0 425.8l3.6 6.2h-7.2z"/><path d="M254.0 428.2l3.6 6.2h-7.2z"/><path d="M258.0 393.8l3.6 6.2h-7.2z"/><path d="M259.0 425.8l3.6 6.2h-7.2z"/><path d="M262.5 356.5l3.6 6.2h-7.2z"/><path d="M263.5 425.6l3.6 6.2h-7.2z"/><path d="M268.0 400.8l3.6 6.2h-7.2z"/><path d="M269.0 424.6l3.6 6.2h-7.2z"/><path d="M273.5 360.8l3.6 6.2h-7.2z"/><path d="M274.5 427.5l3.6 6.2h-7.2z"/><path d="M277.4 403.6l3.6 6.2h-7.2z"/><path d="M278.4 431.3l3.6 6.2h-7.2z"/><path d="M281.2 343.3l3.6 6.2h-7.2z"/><path d="M282.2 427.9l3.6 6.2h-7.2z"/><path d="M285.0 393.0l3.6 6.2h-7.2z"/><path d="M288.9 392.3l3.6 6.2h-7.2z"/><path d="M289.9 429.6l3.6 6.2h-7.2z"/><path d="M293.7 335.5l3.6 6.2h-7.2z"/><path d="M294.7 427.6l3.6 6.2h-7.2z"/><path d="M296.7 345.5l3.6 6.2h-7.2z"/><path d="M297.7 429.6l3.6 6.2h-7.2z"/><path d="M300.2 407.2l3.6 6.2h-7.2z"/><path d="M301.2 435.5l3.6 6.2h-7.2z"/><path d="M303.7 330.5l3.6 6.2h-7.2z"/><path d="M304.7 424.1l3.6 6.2h-7.2z"/><path d="M307.9 348.1l3.6 6.2h-7.2z"/><path d="M308.9 432.8l3.6 6.2h-7.2z"/><path d="M311.0 309.2l3.6 6.2h-7.2z"/><path d="M314.0 247.2l3.6 6.2h-7.2z"/><path d="M316.2 404.0l3.6 6.2h-7.2z"/><path d="M319.6 240.8l3.6 6.2h-7.2z"/><path d="M321.8 188.4l3.6 6.2h-7.2z"/><path d="M326.9 134.2l3.6 6.2h-7.2z"/><path d="M328.4 71.8l3.6 6.2h-7.2z"/><path d="M330.8 64.6l3.6 6.2h-7.2z"/><path d="M333.4 19.0l3.6 6.2h-7.2z"/><path d="M337.0 29.8l3.6 6.2h-7.2z"/><path d="M338.7 62.2l3.6 6.2h-7.2z"/><path d="M341.2 96.8l3.6 6.2h-7.2z"/><path d="M342.3 178.1l3.6 6.2h-7.2z"/><path d="M344.6 212.6l3.6 6.2h-7.2z"/><path d="M347.8 252.6l3.6 6.2h-7.2z"/><path d="M349.4 340.0l3.6 6.2h-7.2z"/><path d="M352.6 195.0l3.6 6.2h-7.2z"/><path d="M354.9 344.4l3.6 6.2h-7.2z"/><path d="M356.4 372.5l3.6 6.2h-7.2z"/><path d="M360.0 231.8l3.6 6.2h-7.2z"/><path d="M363.2 271.8l3.6 6.2h-7.2z"/><path d="M367.0 242.4l3.6 6.2h-7.2z"/><path d="M368.0 427.8l3.6 6.2h-7.2z"/><path d="M369.5 381.8l3.6 6.2h-7.2z"/><path d="M371.4 415.8l3.6 6.2h-7.2z"/><path d="M372.5 381.8l3.6 6.2h-7.2z"/><path d="M373.6 351.0l3.6 6.2h-7.2z"/><path d="M375.0 381.8l3.6 6.2h-7.2z"/><path d="M376.5 400.8l3.6 6.2h-7.2z"/><path d="M378.5 381.8l3.6 6.2h-7.2z"/><path d="M380.2 357.1l3.6 6.2h-7.2z"/><path d="M382.0 381.8l3.6 6.2h-7.2z"/><path d="M383.5 405.8l3.6 6.2h-7.2z"/><path d="M385.0 381.8l3.6 6.2h-7.2z"/><path d="M386.8 367.4l3.6 6.2h-7.2z"/><path d="M388.5 381.8l3.6 6.2h-7.2z"/><path d="M390.0 410.3l3.6 6.2h-7.2z"/><path d="M391.8 381.8l3.6 6.2h-7.2z"/><path d="M393.4 378.4l3.6 6.2h-7.2z"/><path d="M395.5 399.3l3.6 6.2h-7.2z"/><path d="M397.5 383.8l3.6 6.2h-7.2z"/><path d="M400.0 337.8l3.6 6.2h-7.2z"/><path d="M401.5 383.8l3.6 6.2h-7.2z"/><path d="M403.2 386.1l3.6 6.2h-7.2z"/><path d="M406.5 405.8l3.6 6.2h-7.2z"/><path d="M409.0 390.8l3.6 6.2h-7.2z"/><path d="M411.0 415.8l3.6 6.2h-7.2z"/><path d="M414.2 348.8l3.6 6.2h-7.2z"/><path d="M418.6 412.5l3.6 6.2h-7.2z"/><path d="M420.8 354.3l3.6 6.2h-7.2z"/><path d="M425.2 408.1l3.6 6.2h-7.2z"/><path d="M429.6 355.4l3.6 6.2h-7.2z"/><path d="M431.8 397.1l3.6 6.2h-7.2z"/><path d="M435.0 345.5l3.6 6.2h-7.2z"/><path d="M439.5 416.8l3.6 6.2h-7.2z"/><path d="M442.0 385.8l3.6 6.2h-7.2z"/><path d="M445.0 369.6l3.6 6.2h-7.2z"/><path d="M447.6 414.6l3.6 6.2h-7.2z"/><path d="M449.8 301.0l3.6 6.2h-7.2z"/><path d="M452.4 333.0l3.6 6.2h-7.2z"/><path d="M455.0 373.0l3.6 6.2h-7.2z"/><path d="M458.2 397.0l3.6 6.2h-7.2z"/><path d="M460.5 411.8l3.6 6.2h-7.2z"/><path d="M464.2 325.0l3.6 6.2h-7.2z"/><path d="M466.8 281.8l3.6 6.2h-7.2z"/><path d="M469.4 198.8l3.6 6.2h-7.2z"/><path d="M471.4 215.6l3.6 6.2h-7.2z"/><path d="M473.6 162.4l3.6 6.2h-7.2z"/><path d="M476.4 131.8l3.6 6.2h-7.2z"/><path d="M477.8 92.6l3.6 6.2h-7.2z"/><path d="M480.6 82.0l3.6 6.2h-7.2z"/><path d="M483.4 67.4l3.6 6.2h-7.2z"/><path d="M486.2 29.6l3.6 6.2h-7.2z"/><path d="M488.2 102.4l3.6 6.2h-7.2z"/><path d="M490.4 140.2l3.6 6.2h-7.2z"/><path d="M492.7 158.8l3.6 6.2h-7.2z"/><path d="M494.6 176.4l3.6 6.2h-7.2z"/><path d="M497.4 210.8l3.6 6.2h-7.2z"/><path d="M500.2 265.2l3.6 6.2h-7.2z"/><path d="M503.0 209.2l3.6 6.2h-7.2z"/><path d="M505.2 275.4l3.6 6.2h-7.2z"/><path d="M507.2 273.0l3.6 6.2h-7.2z"/><path d="M508.4 315.4l3.6 6.2h-7.2z"/><path d="M511.3 393.8l3.6 6.2h-7.2z"/><path d="M516.8 348.8l3.6 6.2h-7.2z"/><path d="M519.0 404.8l3.6 6.2h-7.2z"/><path d="M521.2 350.8l3.6 6.2h-7.2z"/><path d="M523.4 413.6l3.6 6.2h-7.2z"/><path d="M528.9 346.6l3.6 6.2h-7.2z"/><path d="M531.0 400.8l3.6 6.2h-7.2z"/><path d="M533.8 346.8l3.6 6.2h-7.2z"/><path d="M535.5 375.8l3.6 6.2h-7.2z"/><path d="M537.0 415.8l3.6 6.2h-7.2z"/><path d="M538.5 375.8l3.6 6.2h-7.2z"/><path d="M539.9 343.3l3.6 6.2h-7.2z"/><path d="M541.5 375.8l3.6 6.2h-7.2z"/><path d="M543.0 415.8l3.6 6.2h-7.2z"/><path d="M545.0 375.8l3.6 6.2h-7.2z"/><path d="M547.5 355.4l3.6 6.2h-7.2z"/><path d="M549.7 416.8l3.6 6.2h-7.2z"/><path d="M551.0 375.8l3.6 6.2h-7.2z"/><path d="M552.4 337.8l3.6 6.2h-7.2z"/><path d="M554.0 375.8l3.6 6.2h-7.2z"/><path d="M555.5 416.8l3.6 6.2h-7.2z"/><path d="M557.4 355.4l3.6 6.2h-7.2z"/><path d="M559.0 375.8l3.6 6.2h-7.2z"/><path d="M560.5 416.8l3.6 6.2h-7.2z"/><path d="M562.5 375.8l3.6 6.2h-7.2z"/><path d="M564.0 415.8l3.6 6.2h-7.2z"/><path d="M566.5 375.8l3.6 6.2h-7.2z"/><path d="M569.0 416.8l3.6 6.2h-7.2z"/><path d="M571.7 355.4l3.6 6.2h-7.2z"/><path d="M573.5 375.8l3.6 6.2h-7.2z"/><path d="M575.5 416.8l3.6 6.2h-7.2z"/><path d="M577.5 375.8l3.6 6.2h-7.2z"/><path d="M580.5 416.8l3.6 6.2h-7.2z"/><path d="M582.0 375.8l3.6 6.2h-7.2z"/><path d="M583.8 355.4l3.6 6.2h-7.2z"/><path d="M585.5 375.8l3.6 6.2h-7.2z"/><path d="M587.0 416.8l3.6 6.2h-7.2z"/><path d="M590.0 375.8l3.6 6.2h-7.2z"/></g></g></g>
<g stroke="#000" stroke-width="2.7" fill="none">
<rect x="69.8" y="9.9" width="517.10" height="416.90"/>
<line x1="69.80" y1="426.80" x2="69.80" y2="417.30"/><line x1="112.89" y1="426.80" x2="112.89" y2="421.80"/><line x1="155.98" y1="426.80" x2="155.98" y2="417.30"/><line x1="199.07" y1="426.80" x2="199.07" y2="421.80"/><line x1="242.17" y1="426.80" x2="242.17" y2="417.30"/><line x1="285.26" y1="426.80" x2="285.26" y2="421.80"/><line x1="328.35" y1="426.80" x2="328.35" y2="417.30"/><line x1="371.44" y1="426.80" x2="371.44" y2="421.80"/><line x1="414.53" y1="426.80" x2="414.53" y2="417.30"/><line x1="457.63" y1="426.80" x2="457.63" y2="421.80"/><line x1="500.72" y1="426.80" x2="500.72" y2="417.30"/><line x1="543.81" y1="426.80" x2="543.81" y2="421.80"/><line x1="586.90" y1="426.80" x2="586.90" y2="417.30"/><line x1="69.80" y1="426.80" x2="79.30" y2="426.80"/><line x1="69.80" y1="385.11" x2="74.80" y2="385.11"/><line x1="69.80" y1="343.42" x2="79.30" y2="343.42"/><line x1="69.80" y1="301.73" x2="74.80" y2="301.73"/><line x1="69.80" y1="260.04" x2="79.30" y2="260.04"/><line x1="69.80" y1="218.35" x2="74.80" y2="218.35"/><line x1="69.80" y1="176.66" x2="79.30" y2="176.66"/><line x1="69.80" y1="134.97" x2="74.80" y2="134.97"/><line x1="69.80" y1="93.28" x2="79.30" y2="93.28"/><line x1="69.80" y1="51.59" x2="74.80" y2="51.59"/><line x1="69.80" y1="9.90" x2="79.30" y2="9.90"/>
</g>
<g font-weight="bold" font-size="21.5" fill="#000">
<text x="69.80" y="453" text-anchor="middle">8</text><text x="155.98" y="453" text-anchor="middle">10</text><text x="242.17" y="453" text-anchor="middle">12</text><text x="328.35" y="453" text-anchor="middle">14</text><text x="414.53" y="453" text-anchor="middle">16</text><text x="500.72" y="453" text-anchor="middle">18</text><text x="586.90" y="453" text-anchor="middle">20</text>
<text x="60.5" y="433.20" text-anchor="end">0.0</text><text x="60.5" y="349.82" text-anchor="end">0.2</text><text x="60.5" y="266.44" text-anchor="end">0.4</text><text x="60.5" y="183.06" text-anchor="end">0.6</text><text x="60.5" y="99.68" text-anchor="end">0.8</text><text x="60.5" y="16.30" text-anchor="end">1.0</text>
</g>
<text x="226" y="493.5" font-weight="bold" font-size="28">Frequency (GHz)</text>
<text transform="translate(20,291.6) rotate(-90)" font-weight="bold" font-size="27.5">Absorptivity</text>
<g font-size="20.5">
<line x1="135.2" y1="48.4" x2="179.8" y2="48.4" stroke="#000" stroke-width="1.5"/>
<rect x="155.2" y="46" width="4.8" height="4.8" fill="#000"/>
<text transform="translate(184.60,55.6) scale(1.25,1)">φ</text><text transform="translate(196.95,55.6) scale(1.25,1)">=</text><text x="209.48" y="55.6">0</text><text transform="translate(219.05,55.6) scale(1.25,1)">°</text>
<line x1="135.2" y1="78.1" x2="179.8" y2="78.1" stroke="#f00" stroke-width="1.5"/>
<circle cx="157.7" cy="78.1" r="2.6" fill="#f00"/>
<text transform="translate(184.60,85.1) scale(1.25,1)">φ</text><text transform="translate(196.95,85.1) scale(1.25,1)">=</text><text x="210.18" y="85.1">3</text><text x="219.48" y="85.1">0</text><text transform="translate(229.05,85.1) scale(1.25,1)">°</text>
<line x1="135.2" y1="107.2" x2="179.8" y2="107.2" stroke="#00f" stroke-width="1.5"/>
<path d="M157.5 104.6 L160 109.3 L155 109.3 Z" fill="#00f"/>
<text transform="translate(184.60,114.5) scale(1.25,1)">φ</text><text transform="translate(196.95,114.5) scale(1.25,1)">=</text><text x="210.28" y="114.5">6</text><text x="219.48" y="114.5">0</text><text transform="translate(229.05,114.5) scale(1.25,1)">°</text>
</g>
</svg>
</body></html>
